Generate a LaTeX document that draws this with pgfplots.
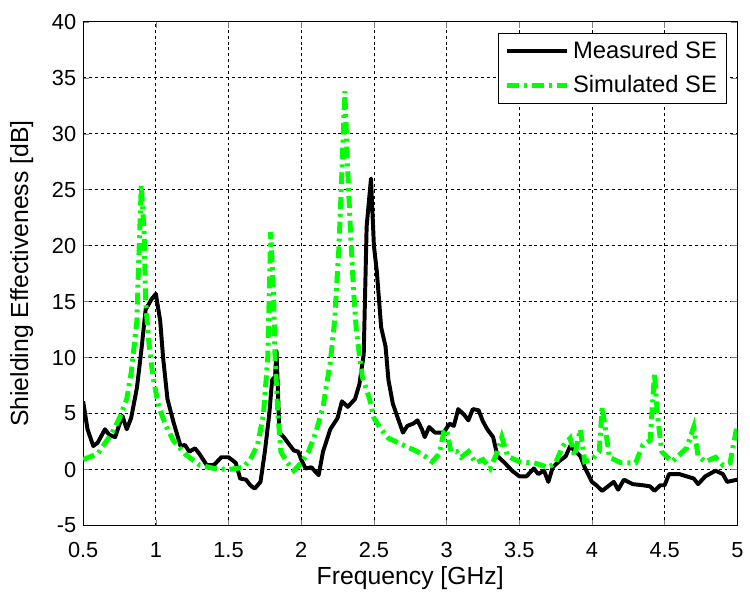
\documentclass[border=0pt]{standalone}
\usepackage{fontspec}
\setmainfont{Liberation Sans}
\usepackage{pgfplots}
\pgfplotsset{compat=1.18}
\definecolor{simgreen}{RGB}{0,255,0}

\begin{document}
\begin{tikzpicture}
\begin{axis}[
  scale only axis,
  width=330.5pt, height=254.5pt,
  xmin=0.5, xmax=5, ymin=-5, ymax=40,
  xtick={0.5,1,...,5}, ytick={-5,0,...,40},
  xticklabels={0.5,1,1.5,2,2.5,3,3.5,4,4.5,5},
  /pgf/number format/assume math mode=true,
  tick label style={font=\fontsize{11}{13}\selectfont},
  xticklabel style={yshift=-5pt},
  label style={font=\fontsize{12.5}{14}\selectfont},
  xlabel={Frequency [GHz]},
  ylabel={Shielding Effectiveness [dB]},
  xlabel style={at={(axis description cs:0.5,0)}, anchor=center, yshift=-26.5pt},
  ylabel style={at={(axis description cs:0,0.5)}, anchor=center, yshift=31pt},
  tick align=inside, major tick length=3pt,
  grid=major,
  major grid style={black, line width=0.4pt, dash pattern=on 1.5pt off 1.5pt},
  axis line style={black, line width=0.6pt},
  legend style={at={(1,1)}, anchor=north east, xshift=-5pt, yshift=-5.5pt,
    font=\fontsize{12}{14}\selectfont, draw=black, line width=0.6pt,
    inner xsep=3pt, inner ysep=2pt, row sep=3pt},
  legend cell align=left,
  legend image code/.code={\draw[#1] (0pt,0pt) -- (30pt,0pt);},
]
\addplot[black, line width=2pt, line join=round] coordinates {
(0.5,6.1) (0.53,3.6) (0.57,2.1) (0.6,2.4) (0.65,3.6) (0.68,3.1) (0.72,2.9)
(0.77,4.8) (0.8,3.6) (0.83,4.6) (0.87,7.3) (0.9,10.6) (0.93,14.3) (0.97,15.2)
(1.0,15.7) (1.03,13.3) (1.05,10) (1.08,6.3) (1.12,4.3) (1.17,2.1) (1.2,2.2)
(1.23,1.6) (1.27,1.9) (1.3,1.4) (1.35,0.4) (1.4,0.4) (1.45,1.1) (1.5,1.1)
(1.55,0.6) (1.58,-0.8) (1.62,-0.9) (1.65,-1.4) (1.68,-1.7) (1.72,-1.1)
(1.75,1.6) (1.78,4.9) (1.8,8) (1.82,8.3) (1.83,10.6) (1.85,3.3) (1.88,2.9)
(1.92,2.2) (1.95,1.7) (1.98,1.6) (2.0,0.9) (2.03,0.1) (2.07,0.2) (2.12,-0.5)
(2.15,1.6) (2.2,3.6) (2.25,4.6) (2.28,6.1) (2.32,5.6) (2.37,6.3) (2.4,7.6)
(2.43,10.3) (2.45,21.7) (2.48,26) (2.5,20) (2.52,17.7) (2.55,12.7) (2.58,11)
(2.6,8) (2.63,5.9) (2.67,4.4) (2.7,3.3) (2.73,3.9) (2.77,4.1) (2.8,4.4)
(2.83,3.6) (2.85,2.9) (2.88,3.8) (2.92,3.3) (2.95,3.3) (2.98,3.3) (3.02,4.1)
(3.05,3.9) (3.08,5.4) (3.12,4.9) (3.15,4.4) (3.18,5.4) (3.22,5.3) (3.25,4.3)
(3.28,3.6) (3.32,2.9) (3.35,1.2) (3.4,0.6) (3.45,-0.1) (3.5,-0.6) (3.55,-0.6)
(3.6,0.1) (3.63,-0.4) (3.67,-0.1) (3.7,-1.1) (3.73,0.2) (3.77,0.7) (3.82,1.2)
(3.85,2.1) (3.88,1.7) (3.92,1.2) (3.95,0.2) (4.0,-1.1) (4.03,-1.4) (4.07,-1.9)
(4.1,-1.6) (4.15,-1.1) (4.18,-1.8) (4.22,-0.9) (4.28,-1.3) (4.35,-1.4)
(4.4,-1.5) (4.43,-1.9) (4.47,-1.4) (4.5,-1.4) (4.53,-0.4) (4.6,-0.4)
(4.65,-0.6) (4.7,-0.8) (4.73,-1.3) (4.78,-0.6) (4.85,-0.1) (4.9,-0.4)
(4.93,-1.1) (5.0,-0.9)
};
\addlegendentry{Measured SE}
\addplot[simgreen, line width=2.5pt, dash pattern=on 6pt off 2.5pt on 1.5pt off 2.5pt] coordinates {
(0.5,0.9) (0.6,1.4) (0.7,3.3) (0.75,4.6) (0.8,6.3) (0.83,8.6) (0.87,13.3)
(0.88,17.7) (0.9,25.4) (0.92,21) (0.93,15) (0.95,11.6) (0.98,8.3) (1.02,5.6)
(1.07,3.9) (1.12,2.6) (1.2,1.4) (1.3,0.4) (1.4,0.1) (1.5,0) (1.6,0.2)
(1.65,0.9) (1.7,2.2) (1.74,4.9) (1.77,10) (1.79,21.2) (1.81,15.7) (1.82,10)
(1.84,4.9) (1.86,1.6) (1.9,0.7) (1.95,-0.1) (2.0,0.6) (2.05,1.6) (2.1,3.3)
(2.15,5.6) (2.2,9.6) (2.23,13.3) (2.26,20) (2.28,26.7) (2.3,33.8) (2.32,26.7)
(2.34,21) (2.36,16) (2.38,12.3) (2.42,8.3) (2.47,6.3) (2.5,4.6) (2.55,3.6)
(2.6,2.8) (2.7,2.2) (2.8,1.6) (2.85,1.2) (2.9,0.7) (2.95,1.4) (2.98,3.3)
(3.0,3.6) (3.03,1.6) (3.07,1.6) (3.1,1.1) (3.15,1.6) (3.2,0.6) (3.25,0.9)
(3.3,0.1) (3.35,1.6) (3.38,2.9) (3.42,1.2) (3.5,0.7) (3.6,0.6) (3.7,0.2)
(3.75,0.6) (3.8,2.1) (3.85,2.8) (3.88,1.2) (3.92,3.6) (3.95,0.7) (4.0,0.9)
(4.05,1.6) (4.07,5.6) (4.1,2.9) (4.12,1.1) (4.2,0.6) (4.3,0.6) (4.35,2.2)
(4.4,2.6) (4.43,8.6) (4.45,4.9) (4.48,1.6) (4.55,0.7) (4.65,1.9) (4.7,3.8)
(4.73,1.2) (4.78,0.7) (4.85,1.1) (4.9,0.4) (4.95,0.6) (5.0,4.1)
};
\addlegendentry{Simulated SE}
\end{axis}
\path (-42pt,-32.5pt) rectangle (333pt,265.5pt);
\end{tikzpicture}
\end{document}
